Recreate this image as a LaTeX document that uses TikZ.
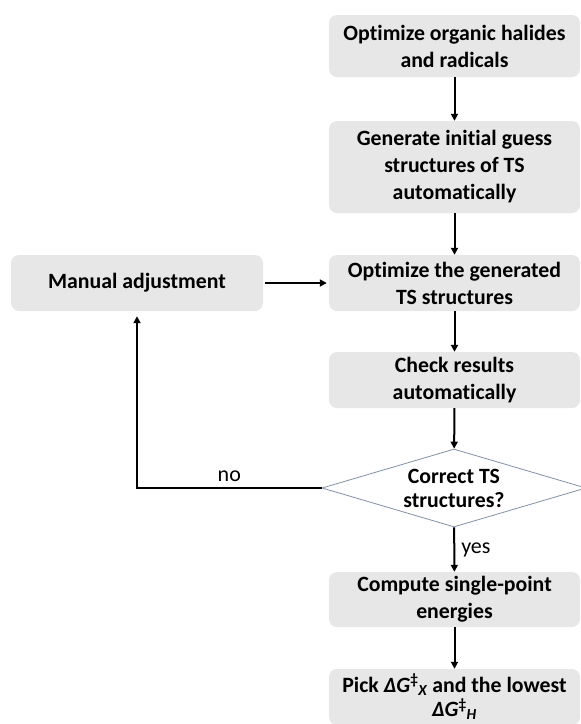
\documentclass[tikz,border=0pt]{standalone}
\usepackage{fontspec}
\setmainfont[Ligatures=NoCommon]{Carlito}
\usepackage{tikz}
\usetikzlibrary{arrows.meta,shapes.geometric}
\definecolor{boxgray}{HTML}{E8E7E7}
\definecolor{diamondblue}{HTML}{7F90B2}
\newcommand{\dGX}{{\itshape ΔG}\textsuperscript{‡}\textsubscript{\itshape X}}
\newcommand{\dGH}{{\itshape ΔG}\textsuperscript{‡}\textsubscript{\itshape H}}

\begin{document}
\begin{tikzpicture}[x=1pt, y=-1pt, auto,
    stepbox/.style={fill=boxgray, rounded corners=8pt, minimum width=251pt,
      align=center, font=\fontsize{21.8}{27}\selectfont\bfseries, inner sep=0pt},
    decision/.style={diamond, draw=diamondblue, line width=0.8pt, fill=white,
      aspect=3.3, inner sep=-8pt, minimum width=264pt, minimum height=78pt,
      align=center, font=\fontsize{21.8}{24}\selectfont\bfseries},
    flow/.style={-{Triangle[length=7pt,width=7pt]}, line width=2pt},
    lbl/.style={font=\fontsize{22}{24}\selectfont}]
      \useasboundingbox (0,0) rectangle (581,724);
      \node[stepbox, minimum height=62pt] (opt) at (454.5, 46) {Optimize organic halides\\and radicals};
      \node[stepbox, minimum height=92pt] (guess) at (454.5, 167) {Generate initial guess\\structures of TS\\automatically};
      \node[stepbox, minimum height=56pt] (optts) at (454.5, 283) {Optimize the generated\\TS structures};
      \node[stepbox, minimum height=56pt, minimum width=252pt] (manual) at (137, 283) {Manual adjustment};
      \node[stepbox, minimum height=56pt] (check) at (454.5, 380) {Check results\\automatically};
      \node[decision] (correct) at (454, 488) {Correct TS\\structures?};
      \node[stepbox, minimum height=55pt] (compute) at (454.5, 599.5) {Compute single-point\\energies};
      \node[stepbox, minimum height=56pt, font=\fontsize{21.8}{24.5}\selectfont\bfseries] (pick) at (454.5, 697) {Pick \dGX\ and the lowest\\\dGH};
      \draw[flow] (opt) to (guess);
      \draw[flow] (guess) to (optts);
      \draw[flow] (optts) to (check);
      \draw[flow] (check) to (correct);
      \draw[flow] (correct) to node[lbl, right, inner sep=6pt] {yes} (compute);
      \draw[flow] (compute) to (pick);
      \draw[flow, shorten <=2pt, shorten >=2pt] (manual) to (optts);
      \draw[flow, shorten >=5pt] (correct.west) -| node[lbl, pos=0.25, above, inner sep=5pt] {no} (manual.south);
    \end{tikzpicture}
\end{document}
